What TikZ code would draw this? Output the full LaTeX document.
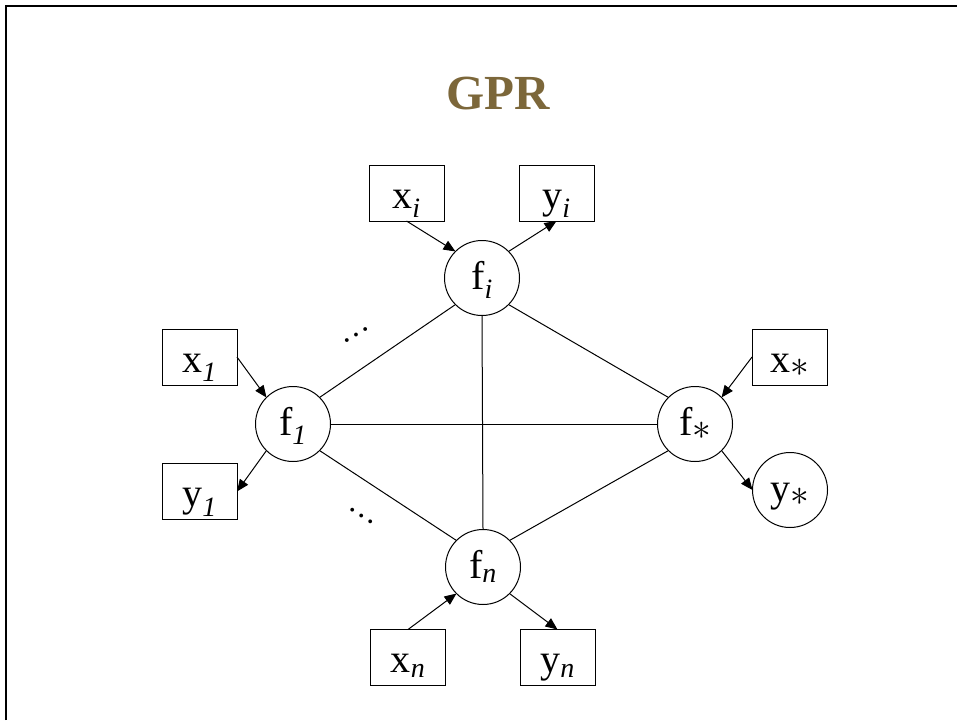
\documentclass[tikz,border=0pt]{standalone}
\usepackage{fontspec}
\setmainfont{Liberation Serif}
\usetikzlibrary{arrows.meta}
\definecolor{titlebrown}{RGB}{124,103,58}
\newcommand{\subit}[1]{\textsubscript{\itshape #1}}
\newcommand{\substar}{\raisebox{-4pt}{\scalebox{1.5}{$\ast$}}}
\tikzset{
  varbox/.style={draw=black, line width=1pt, minimum width=75pt, minimum height=56pt, inner sep=0pt, outer sep=0pt, font=\fontsize{40}{44}\selectfont, text height=30pt, text depth=0pt},
  varcirc/.style={draw=black, line width=1pt, circle, minimum size=75pt, inner sep=0pt, outer sep=0pt, font=\fontsize{40}{44}\selectfont, text height=22pt, text depth=0pt},
  link/.style={line width=1pt},
  arr/.style={line width=1pt, -{Triangle[length=12pt,width=10pt]}},
  dots/.style={font=\fontsize{32}{34}\selectfont, inner sep=0pt, anchor=base},
}
\begin{document}
\begin{tikzpicture}[x=1pt,y=-1pt]
\useasboundingbox (0,0) rectangle (957,720);
\coordinate (bl) at (6,720);
\coordinate (tl) at (6,6);
\coordinate (tr) at (957,6);
\draw[line width=2.5pt] (bl) -- (tl) -- (tr);
\node[text=titlebrown, font=\fontsize{49}{55}\selectfont\bfseries, anchor=base, inner sep=0pt] (title) at (498.5,109) {GPR};
% circles
\node[varcirc] (fi) at (482,278) {f\subit{i}};
\node[varcirc] (f1) at (293,424) {f\subit{1}};
\node[varcirc] (fs) at (695,424) {f\substar};
\node[varcirc] (fn) at (483,567) {f\subit{n}};
\node[varcirc] (ys) at (790,490) {y\substar};
% boxes
\node[varbox] (xi) at (406.5,193) {x\subit{i}};
\node[varbox] (yi) at (556.5,193) {y\subit{i}};
\node[varbox] (x1) at (199.5,357) {x\subit{1}};
\node[varbox] (y1) at (199.5,491.5) {y\subit{1}};
\node[varbox] (xs) at (789.5,357) {x\substar};
\node[varbox] (xn) at (408,657.5) {x\subit{n}};
\node[varbox] (yn) at (557.5,657.5) {y\subit{n}};
% links
\draw[link] (fi.south west) -- (f1.north east);
\draw[link] (fi.south) -- (fn.north);
\draw[link] (fi.south east) -- (fs.north west);
\draw[link] (f1.east) -- (fs.west);
\draw[link] (f1.south east) -- (fn.north west);
\draw[link] (fs.south west) -- (fn.north east);
% arrows
\draw[arr] (xi.south) -- (fi.north west);
\draw[arr] (fi.north east) -- (yi.south);
\draw[arr] (x1.east) -- (f1.north west);
\draw[arr] (f1.south west) -- (y1.east);
\draw[arr] (xs.west) -- (fs.north east);
\draw[arr] (fs.south east) -- (ys.west);
\draw[arr] (xn.north) -- (fn.south west);
\draw[arr] (fn.south east) -- (yn.north);
% dots
\node[dots, rotate=31] (d1) at (357,336) {…};
\node[dots, rotate=-33] (d2) at (361,517) {…};
\end{tikzpicture}
\end{document}
